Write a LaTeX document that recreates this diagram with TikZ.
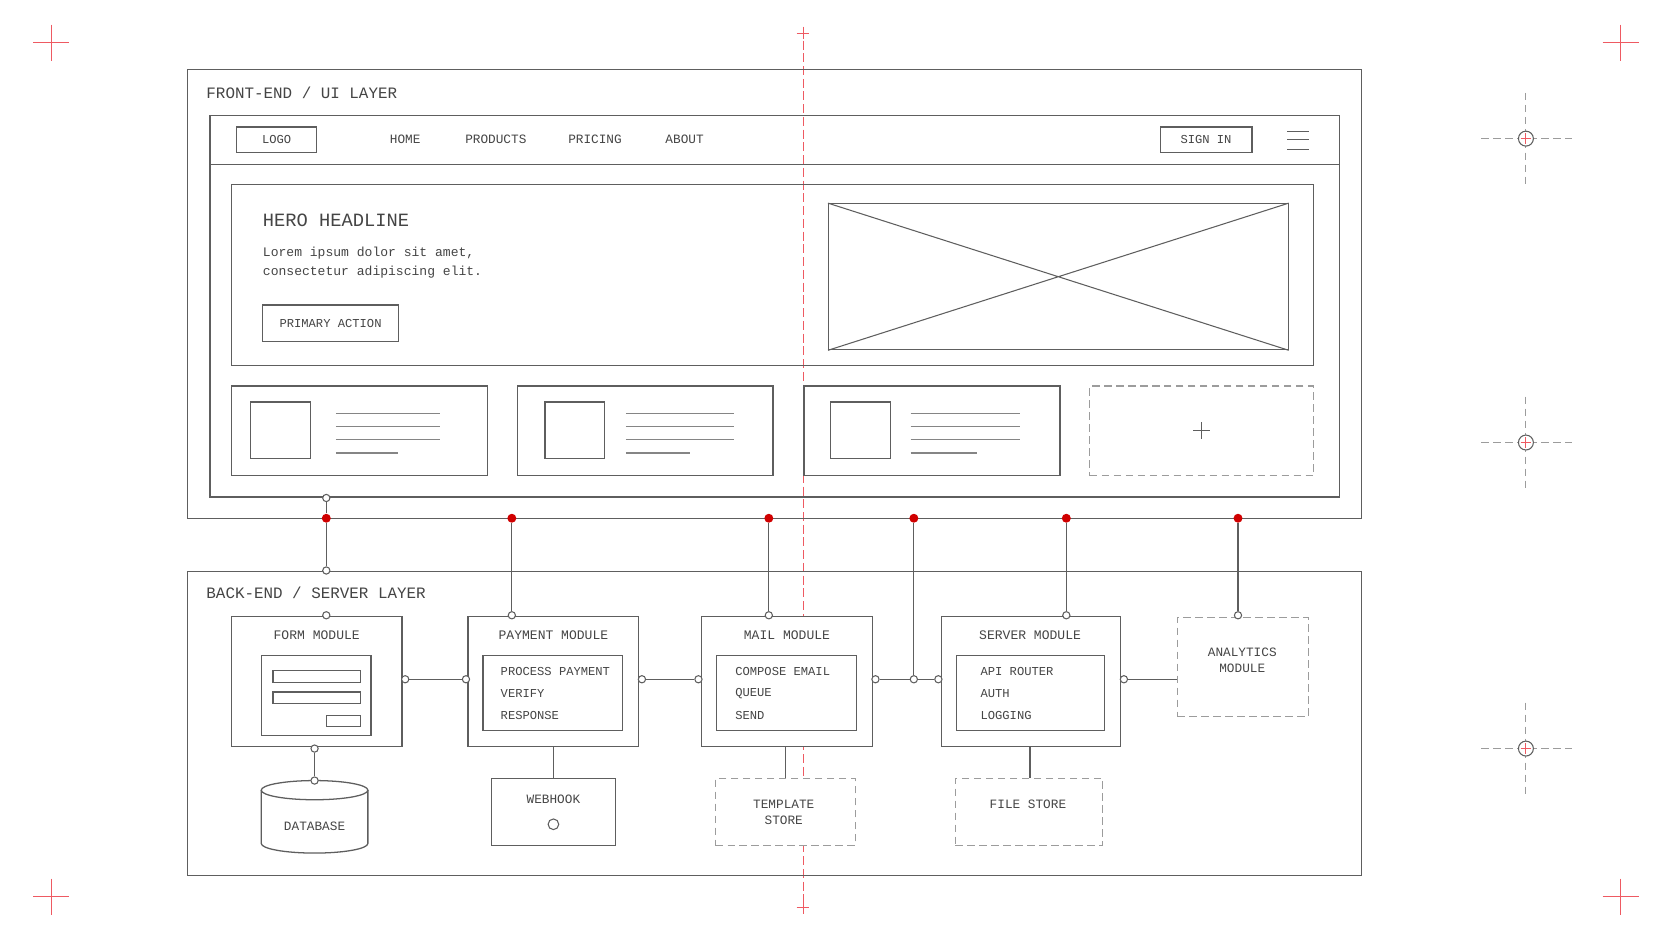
\documentclass[tikz,border=0pt]{standalone}
\usepackage{fontspec}
\setmainfont{Liberation Mono}
\usetikzlibrary{fit,positioning}
\definecolor{ink}{HTML}{454545}
\definecolor{wire}{HTML}{5E5E5E}
\definecolor{faint}{HTML}{9C9C9C}
\definecolor{dotred}{HTML}{D00000}
\definecolor{guide}{HTML}{EE5A62}
\newcommand{\fsz}[1]{\fontsize{#1}{#1}\selectfont}

\begin{document}
\begin{tikzpicture}[x=.25mm,y=-.25mm,line width=.85pt,
  boxr/.style={draw=wire,inner sep=0pt,fit={#1}},
  ghost/.style={draw=faint,dash pattern=on 5pt off 3pt,inner sep=0pt,fit={#1}},
  lbl/.style={text=ink,font=\fsz{8.5},inner sep=0pt},
  item/.style={lbl,font=\fsz{8.1},anchor=west},
  port/.style={circle,draw=wire,fill=white,line width=.7pt,inner sep=0pt,minimum size=1.7mm},
  tap/.style={circle,fill=dotred,inner sep=0pt,minimum size=2.1mm},
  link/.style={draw=wire,line width=.8pt},
  skel/.style={draw=faint!85!black,line width=1pt}]
\useasboundingbox[fill=white] (0,0) rectangle (1568,882);

% registration marks
\foreach \x/\y in {48/40,1520/40,48/841,1520/841}
  \draw[guide,line width=.8pt] (\x-17,\y) -- (\x+17,\y) (\x,\y-17) -- (\x,\y+17);
\foreach \y in {31,851}
  \draw[guide,line width=.6pt] (747,\y) -- (759,\y) (753,\y-6) -- (753,\y+6);
\foreach \y in {130,415,702}{
  \draw[faint,line width=.7pt,dash pattern=on 5pt off 3pt] (1389,\y) -- (1474,\y) (1431,\y-43) -- (1431,\y+43);
  \draw[wire,line width=.7pt,fill=white] (1431,\y) circle (7);
  \draw[guide,line width=.7pt] (1426,\y) -- (1436,\y) (1431,\y-5) -- (1431,\y+5);
}
% centre guide
\draw[guide,line width=.6pt,dash pattern=on 6pt off 2.5pt] (753,38) -- (753,845);

% front-end layer
\node[boxr={(176,65) (1277,486)}] (front) {};
\node[lbl,font=\fsz{10.6},anchor=west] (frontlbl) at (193,87) {FRONT-END / UI LAYER};
\node[boxr={(197,108) (1256,466)}] (browser) {};
\draw[wire] (197,154) -- (1256,154);
\node[boxr={(222,119) (297,143)}] (logo) {};
\node[lbl,font=\fsz{8.1}] (logotxt) at (logo) {LOGO};
\foreach \t/\x in {HOME/380,PRODUCTS/465,PRICING/558,ABOUT/642}
  \node[lbl] (nav\t) at (\x,131) {\t};
\node[boxr={(1088,119) (1174,143)}] (signin) {};
\node[lbl,font=\fsz{8.1}] (signtxt) at (signin) {SIGN IN};
\foreach \y in {123,131,140} \draw[wire,line width=.7pt] (1207,\y) -- (1228,\y);

\node[boxr={(217,173) (1232,343)}] (hero) {};
\node[lbl,font=\fsz{12.5},anchor=west] (headline) at (246,207) {HERO HEADLINE};
\node[lbl,font=\fsz{8.7},anchor=west] (lorem1) at (246,237) {Lorem ipsum dolor sit amet,};
\node[lbl,font=\fsz{8.7},anchor=west] (lorem2) at (246,255) {consectetur adipiscing elit.};
\node[boxr={(246,286) (374,320)}] (cta) {};
\node[lbl,font=\fsz{8.1}] (ctatxt) at (cta) {PRIMARY ACTION};
\node[boxr={(777,191) (1208,328)},line width=.7pt] (img) {};
\draw[wire,line width=.7pt] (img.north west) -- (img.south east) (img.north east) -- (img.south west);

% cards
\foreach \a/\b/\t/\l/\r/\s in {217/457/235/315/413/373,485/725/511/587/688/647,754/994/779/854/957/916}{
  \draw[wire] (\a,362) rectangle (\b,446);
  \draw[wire] (\t,377) rectangle ++(56,53);
  \foreach \y in {388,400,412} \draw[skel] (\l,\y) -- (\r,\y);
  \draw[skel] (\l,425) -- (\s,425);
}
\node[ghost={(1022,362) (1232,446)}] (addcard) {};
\draw[wire,line width=.7pt] (1119,404) -- (1135,404) (1127,396) -- (1127,412);

% back-end layer
\node[boxr={(176,536) (1277,821)}] (back) {};
\node[lbl,font=\fsz{10.6},anchor=west] (backlbl) at (193,556) {BACK-END / SERVER LAYER};

\node[boxr={(217,578) (377,700)},fill=white] (form) {};
\node[lbl,font=\fsz{8.7}] (formttl) at (297,596) {FORM MODULE};
\node[boxr={(245,615) (348,690)}] (forminner) {};
\draw[wire] (256,629) rectangle (338,640) (256,649) rectangle (338,660) (306,671) rectangle (338,681);

\node[boxr={(439,578) (599,700)},fill=white] (pay) {};
\node[lbl,font=\fsz{8.7}] (payttl) at (519,596) {PAYMENT MODULE};
\node[boxr={(453,615) (584,685)}] (payinner) {};
\node[item] (pay1) at (469,630) {PROCESS PAYMENT};
\node[item] (pay2) at (469,650) {VERIFY};
\node[item] (pay3) at (469,671) {RESPONSE};

\node[boxr={(658,578) (818,700)},fill=white] (mail) {};
\node[lbl,font=\fsz{8.7}] (mailttl) at (738,596) {MAIL MODULE};
\node[boxr={(672,615) (803,685)}] (mailinner) {};
\node[item] (mail1) at (689,630) {COMPOSE EMAIL};
\node[item] (mail2) at (689,650) {QUEUE};
\node[item] (mail3) at (689,671) {SEND};

\node[boxr={(883,578) (1051,700)},fill=white] (serv) {};
\node[lbl,font=\fsz{8.7}] (servttl) at (966,596) {SERVER MODULE};
\node[boxr={(897,615) (1036,685)}] (servinner) {};
\node[item] (serv1) at (919,630) {API ROUTER};
\node[item] (serv2) at (919,650) {AUTH};
\node[item] (serv3) at (919,671) {LOGGING};

\node[ghost={(1104,579) (1227,672)},fill=white] (anal) {};
\node[lbl,align=center] (analtxt) at (1165,619) {ANALYTICS\\[2pt]MODULE};

% storage
\draw[wire,fill=white] (245,741) -- (245,791) arc[start angle=180,end angle=0,x radius=50,y radius=9] -- (345,741);
\draw[wire] (295,741) ellipse [x radius=50,y radius=9];
\node[lbl] (db) at (295,775) {DATABASE};
\node[boxr={(461,730) (577,793)},fill=white] (hook) {};
\node[lbl] (hooktxt) at (519,750) {WEBHOOK};
\node[circle,draw=wire,line width=.7pt,inner sep=0pt,minimum size=2.5mm] (hookdot) at (519,773) {};
\node[ghost={(671,730) (802,793)},fill=white] (tmpl) {};
\node[lbl,align=center] (tmpltxt) at (735,762) {TEMPLATE\\[2pt]STORE};
\node[ghost={(896,730) (1034,793)},fill=white] (files) {};
\node[lbl] (filestxt) at (964,754) {FILE STORE};

% ports and taps
\node[port] (bp) at (306,467) {};
\node[port] (kp) at (306,535) {};
\node[port] (ft) at (306,577) {};
\node[port] (fr) at (380,637) {};
\node[port] (pl) at (437,637) {};
\node[port] (pr) at (602,637) {};
\node[port] (ml) at (655,637) {};
\node[port] (mr) at (821,637) {};
\node[port] (jn) at (857,637) {};
\node[port] (sl) at (880,637) {};
\node[port] (sr) at (1054,637) {};
\node[port] (pt) at (480,577) {};
\node[port] (mt) at (721,577) {};
\node[port] (st) at (1000,577) {};
\node[port] (at) at (1161,577) {};
\node[port] (fb) at (295,702) {};
\node[port] (dt) at (295,732) {};
\foreach \x [count=\i] in {306,480,721,857,1000,1161}
  \node[tap] (t\i) at (\x,486) {};

% connectors
\draw[link] (bp) -- (t1) -- (kp);
\draw[link] (t2) -- (pt);
\draw[link] (t3) -- (mt);
\draw[link] (t4) -- (jn);
\draw[link] (t5) -- (st);
\draw[link] (t6) -- (at);
\draw[link] (fr) -- (pl);
\draw[link] (pr) -- (ml);
\draw[link] (mr) -- (jn) -- (sl);
\draw[link] (sr) -- (sr -| anal.west);
\draw[link] (fb) -- (dt);
\draw[link] (pay.south) -- (hook.north);
\draw[link] (737,700) -- (737,730);
\draw[link] (966,700) -- (966,730);
\end{tikzpicture}
\end{document}
